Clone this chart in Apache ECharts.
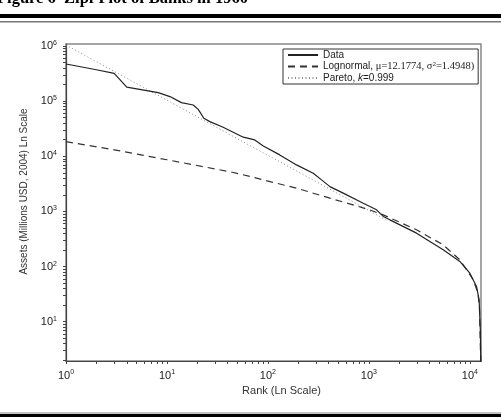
<!DOCTYPE html>
<html>
<head>
<meta charset="utf-8">
<script src="https://cdn.jsdelivr.net/npm/echarts@6/dist/echarts.min.js"></script>
<style>
html,body{margin:0;padding:0;background:#fff;}
#chart{width:501px;height:417px;}
</style>
</head>
<body>
<div id="chart"></div>
<script>
// ---- Data (rank vs assets, millions USD 2004) ----
const dataRank   = [1, 2, 3, 4, 6.3, 8.2, 10.7, 13.9, 18.2, 20.4, 23.2, 26.6, 36, 57, 74, 90, 131, 192, 281, 340, 411, 557, 879, 1192, 1387, 1614, 2966, 5445, 7962, 10000, 11650, 12360, 12700, 12880];
const dataAssets = [472000, 371000, 320000, 179000, 155000, 142600, 121000, 94000, 85000, 71000, 49000, 42500, 33700, 22200, 19800, 15400, 10600, 6980, 4940, 3730, 2820, 2150, 1410, 1070, 812, 704, 404, 201, 124, 76, 43.6, 25, 7.2, 1.5];

const lognRank   = [1, 3, 10, 42, 66, 90, 192, 411, 754, 1014, 1387, 2966, 5445, 7962, 10800, 12000, 12450, 12850];
const lognAssets = [18400, 13100, 8650, 5250, 4320, 3730, 2640, 1740, 1260, 1070, 867, 464, 248, 133, 57.7, 33.5, 18.9, 1.5];

const paretoRank   = [1, 10, 100, 1000, 1500];
const paretoAssets = [1040000, 104000, 10400, 1040, 690];

const xMajorTicks = [1, 10, 100, 1000, 10000];
const yMajorTicks = [10, 100, 1000, 10000, 100000, 1000000];
const xMin = 1, xMax = 12900;
const yMin = 1.94, yMax = 1087000;

const seriesNames = ['Data', 'Lognormal', 'Pareto'];
const legendTexts = {
  'Data': 'Data',
  'Lognormal': 'Lognormal, {t|μ=12.1774, σ}{s|2}{t|=1.4948)}',
  'Pareto': 'Pareto, {i|k}=0.999'
};

function pairs(xs, ys){ return xs.map((x,i)=>[x, ys[i]]); }
function minorList(maxV){
  const out=[];
  for(let p=1;p<=maxV;p*=10){ for(let m=1;m<=9;m++){ const v=m*p; if(v<=maxV) out.push(v);} }
  return out;
}
function pow10Label(v){
  const l = Math.log10(v), e = Math.round(l);
  if (Math.abs(l-e) > 1e-6) return '';
  return '{b|10}{sup|' + e + '}';
}
const labelRich = {
  b: {fontSize: 11, lineHeight: 13, color: '#222', fontFamily: 'Liberation Sans'},
  sup: {fontSize: 7, lineHeight: 8, verticalAlign: 'top', color: '#222', fontFamily: 'Liberation Sans'}
};
const FONT = 'Liberation Sans';

const chart = echarts.init(document.getElementById('chart'), null, {renderer: 'canvas'});
const option = {
  animation: false,
  backgroundColor: '#fff',
  graphic: [
    {type: 'text', left: -3, top: -10, style: {text: 'Figure 6  Zipf Plot of Banks in 1960', font: 'bold 16.5px "Liberation Serif"', fill: '#000'}},
    {type: 'rect', shape: {x: 0, y: 14, width: 501, height: 4}, style: {fill: '#000'}},
    {type: 'rect', shape: {x: 0, y: 21, width: 501, height: 1.5}, style: {fill: '#777'}},
    {type: 'rect', shape: {x: 0, y: 412.5, width: 501, height: 1}, style: {fill: '#888'}},
    {type: 'rect', shape: {x: 0, y: 414, width: 501, height: 3}, style: {fill: '#000'}}
  ],
  grid: {left: 66, right: 20, top: 44, bottom: 56, show: true, borderColor: '#888', borderWidth: 1.5, containLabel: false},
  legend: {
    data: seriesNames.map(n => ({name: n, itemStyle: {opacity: 0}})),
    orient: 'vertical',
    left: 283, top: 49,
    padding: [1, 4, 1, 4],
    itemGap: 1,
    itemWidth: 30, itemHeight: 9,
    align: 'left',
    borderColor: '#333', borderWidth: 1, backgroundColor: '#fff',
    textStyle: {
      fontSize: 10, color: '#222', fontFamily: FONT,
      rich: {
        t: {fontSize: 10.5, fontFamily: 'Liberation Serif', color: '#222'},
        s: {fontSize: 7, fontFamily: 'Liberation Serif', color: '#222', verticalAlign: 'top', lineHeight: 7},
        i: {fontSize: 10, fontStyle: 'italic', fontFamily: FONT, color: '#222'}
      }
    },
    formatter: name => legendTexts[name]
  },
  xAxis: {
    type: 'log', logBase: 10, min: xMin, max: xMax,
    name: 'Rank (Ln Scale)', nameLocation: 'middle', nameGap: 22,
    nameTextStyle: {fontSize: 11, color: '#333', fontFamily: FONT, padding: [0, 0, 0, 16]},
    axisLine: {lineStyle: {color: '#444', width: 1.2}},
    axisTick: {show: true, inside: false, length: 3, customValues: minorList(xMax), lineStyle: {color: '#444'}},
    axisLabel: {margin: 8, customValues: xMajorTicks, formatter: pow10Label, rich: labelRich},
    splitLine: {show: false}
  },
  yAxis: {
    type: 'log', logBase: 10, min: yMin, max: yMax,
    name: 'Assets (Millions USD, 2004) Ln Scale', nameLocation: 'middle', nameGap: 37, nameRotate: 90,
    nameTextStyle: {fontSize: 10, color: '#333', fontFamily: FONT, padding: [0, 0, 0, 22]},
    axisLine: {lineStyle: {color: '#444', width: 1.2}},
    axisTick: {show: true, inside: false, length: 3, customValues: minorList(yMax), lineStyle: {color: '#444'}},
    axisLabel: {margin: 9, customValues: yMajorTicks, formatter: pow10Label, rich: labelRich},
    splitLine: {show: false}
  },
  series: [
    {name: 'Data', type: 'line', data: pairs(dataRank, dataAssets), showSymbol: false, symbol: 'none', clip: true,
     lineStyle: {color: '#222', width: 1.2, type: 'solid'}, itemStyle: {color: '#222'}, z: 3},
    {name: 'Lognormal', type: 'line', data: pairs(lognRank, lognAssets), showSymbol: false, symbol: 'none', clip: true,
     lineStyle: {color: '#333', width: 1.2, type: [7, 5]}, itemStyle: {color: '#333'}, z: 2},
    {name: 'Pareto', type: 'line', data: pairs(paretoRank, paretoAssets), showSymbol: false, symbol: 'none', clip: true,
     lineStyle: {color: '#888', width: 1, type: [1, 2.5]}, itemStyle: {color: '#888'}, z: 1}
  ]
};
chart.setOption(option);
</script>
</body>
</html>
